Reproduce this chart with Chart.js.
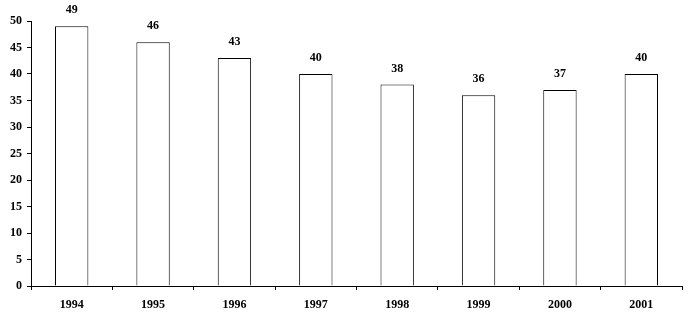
<!DOCTYPE html>
<html>
<head>
<meta charset="utf-8">
<script src="https://cdn.jsdelivr.net/npm/chart.js@4/dist/chart.umd.min.js"></script>
<style>
html,body{margin:0;padding:0;background:#fff;}
canvas{display:block;}
</style>
</head>
<body>
<canvas id="c" width="689" height="313"></canvas>
<script>
const categories = ["1994","1995","1996","1997","1998","1999","2000","2001"];
const values = [49, 46, 43, 40, 38, 36, 37, 40];
const yTicks = [0, 5, 10, 15, 20, 25, 30, 35, 40, 45, 50];

const FONT = "'Liberation Serif', 'Times New Roman', serif";

const valueLabels = {
  id: 'valueLabels',
  afterDatasetsDraw(chart) {
    const ctx = chart.ctx;
    const meta = chart.getDatasetMeta(0);
    ctx.save();
    ctx.font = "bold 12px " + FONT;
    ctx.fillStyle = "#000";
    ctx.textAlign = "center";
    ctx.textBaseline = "alphabetic";
    meta.data.forEach((bar, i) => {
      ctx.fillText(String(values[i]), bar.x, bar.y - 13);
    });
    ctx.restore();
  }
};

new Chart(document.getElementById('c'), {
  type: 'bar',
  data: {
    labels: categories,
    datasets: [{
      data: values,
      backgroundColor: '#ffffff',
      borderColor: '#000000',
      borderWidth: 1,
      borderSkipped: 'start',
      inflateAmount: 0,
      categoryPercentage: 1,
      barPercentage: 0.41
    }]
  },
  options: {
    responsive: false,
    devicePixelRatio: 1,
    animation: false,
    layout: { padding: { top: 21, right: 7, left: 0, bottom: 0 } },
    plugins: { legend: { display: false }, tooltip: { enabled: false }, title: { display: false } },
    scales: {
      x: {
        grid: { display: true, drawOnChartArea: false, drawTicks: true, tickLength: 4, color: '#000', offset: true },
        border: { display: true, color: '#000', width: 1 },
        ticks: { color: '#000', font: { family: FONT, size: 12, weight: 'bold' }, padding: 8, maxRotation: 0, autoSkip: false },
        afterFit(scale) { scale.height = 27; }
      },
      y: {
        min: 0,
        max: 50,
        afterBuildTicks(scale) { scale.ticks = yTicks.map(v => ({ value: v })); },
        grid: { display: true, drawOnChartArea: false, drawTicks: true, tickLength: 4, color: '#000' },
        border: { display: true, color: '#000', width: 1 },
        ticks: { color: '#000', font: { family: FONT, size: 12, weight: 'bold' }, padding: 5 },
        afterFit(scale) { scale.width = 31; }
      }
    }
  },
  plugins: [valueLabels]
});
</script>
</body>
</html>
